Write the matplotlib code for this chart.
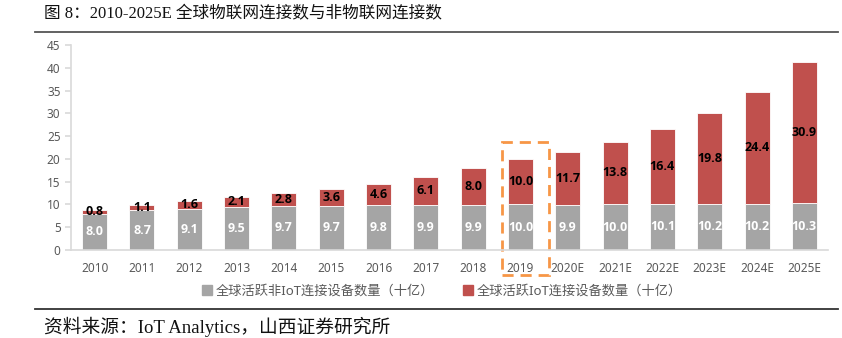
import matplotlib.pyplot as plt
from matplotlib.patches import Rectangle
from matplotlib.lines import Line2D
import numpy as np

plt.rcParams['font.family'] = ['Noto Sans', 'Noto Sans CJK SC', 'DejaVu Sans']

years = ['2010', '2011', '2012', '2013', '2014', '2015', '2016', '2017', '2018',
         '2019', '2020E', '2021E', '2022E', '2023E', '2024E', '2025E']
non_iot = [8.0, 8.7, 9.1, 9.5, 9.7, 9.7, 9.8, 9.9, 9.9, 10.0, 9.9, 10.0, 10.1, 10.2, 10.2, 10.3]
iot = [0.8, 1.1, 1.6, 2.1, 2.8, 3.6, 4.6, 6.1, 8.0, 10.0, 11.7, 13.8, 16.4, 19.8, 24.4, 30.9]
labels = ['全球活跃非IoT连接设备数量（十亿）', '全球活跃IoT连接设备数量（十亿）']

grey = '#A5A5A5'
red = '#C0504D'
axis_col = '#D9D9D9'
text_col = '#595959'

fig = plt.figure(figsize=(8.42, 3.38), dpi=100)
ax = fig.add_axes([0.0843, 0.2604, 0.8991, 0.6065])

x = np.arange(len(years))
w = 0.53
ax.bar(x, non_iot, w, color=grey, edgecolor='white', linewidth=0.6)
ax.bar(x, iot, w, bottom=non_iot, color=red, edgecolor='white', linewidth=0.6)

for i in range(len(years)):
    ax.text(x[i], non_iot[i] / 2, f'{non_iot[i]:.1f}', ha='center', va='center',
            color='white', fontsize=9, fontweight='bold', family='Open Sans')
    ax.text(x[i], non_iot[i] + iot[i] / 2, f'{iot[i]:.1f}', ha='center', va='center',
            color='black', fontsize=9, fontweight='bold', family='Open Sans')

ax.set_xlim(-0.5, len(years) - 0.5)
ax.set_ylim(0, 45)
ax.set_yticks(range(0, 46, 5))
ax.set_xticks(x)
ax.set_xticklabels(years)
for s in ['top', 'right']:
    ax.spines[s].set_visible(False)
for s in ['left', 'bottom']:
    ax.spines[s].set_color(axis_col)
    ax.spines[s].set_linewidth(1.2)
ax.tick_params(axis='y', colors=axis_col, labelcolor=text_col, labelsize=8.5, length=4, width=1.2)
ax.tick_params(axis='x', length=0, labelcolor=text_col, labelsize=8.5, pad=9)

# dashed highlight around 2019
i19 = years.index('2019')
ax.add_patch(Rectangle((i19 - 0.40, -5.5), 1.0, 29.2, fill=False, edgecolor='#F79646',
                       linewidth=2, linestyle=(0, (4, 2.5)), clip_on=False))

handles = [Line2D([], [], marker='s', linestyle='none', color=grey, markersize=7),
           Line2D([], [], marker='s', linestyle='none', color=red, markersize=7)]
fig.legend(handles, labels, loc='center', bbox_to_anchor=(0.524, 0.139), ncol=2,
           frameon=False, fontsize=9.5, labelcolor=text_col, columnspacing=2.0,
           handletextpad=0.2, handlelength=1.0)

# title, rules and source
fig.text(0.052, 0.958, '图 8：2010-2025E 全球物联网连接数与非物联网连接数', fontsize=12,
         family=['Liberation Serif', 'Noto Sans CJK SC'], va='center', color='#111111')
fig.add_artist(Line2D([35 / 842, 838 / 842], [1 - 31.7 / 338] * 2, color='#555555', linewidth=1.3))
fig.add_artist(Line2D([35 / 842, 838 / 842], [1 - 309 / 338] * 2, color='#333333', linewidth=1.3))
fig.text(0.052, 1 - 327 / 338, '资料来源：IoT Analytics，山西证券研究所', fontsize=13.5,
         family=['Liberation Serif', 'Noto Sans CJK SC'], va='center', color='#111111')

fig.savefig('out.png', dpi=100)
